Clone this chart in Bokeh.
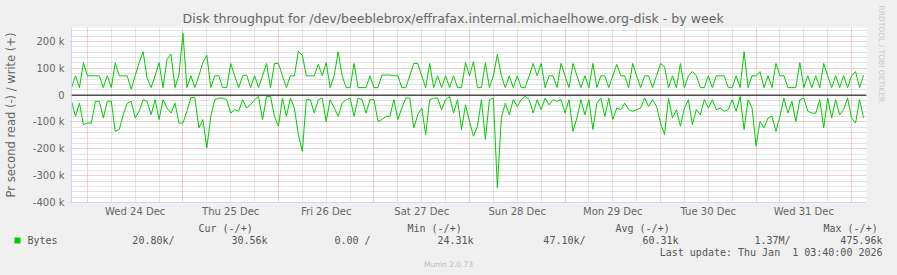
from bokeh.plotting import figure
from bokeh.layouts import column
from bokeh.models import Range1d, FixedTicker, Span, Title
from bokeh.core.properties import value
from bokeh.embed import file_html
from bokeh.resources import INLINE

# hourly samples starting Tue 23 Dec 20:00 (hour index)
hours = list(range(200))

# write (+) bytes per second, in thousands
write_k = [
    28, 72, 28, 121, 72, 72, 72, 72, 28, 72,
    28, 121, 72, 72, 72, 22, 72, 121, 162, 63,
    28, 72, 121, 28, 133, 153, 28, 75, 230, 28,
    72, 28, 72, 121, 149, 28, 72, 72, 28, 28,
    118, 72, 28, 72, 75, 28, 72, 28, 72, 118,
    28, 118, 118, 72, 28, 72, 72, 162, 149, 72,
    72, 72, 115, 72, 121, 28, 72, 162, 72, 28,
    28, 118, 28, 28, 28, 72, 28, 28, 75, 75,
    75, 72, 72, 28, 28, 72, 118, 118, 72, 28,
    118, 28, 72, 28, 72, 28, 72, 28, 28, 121,
    72, 125, 28, 28, 121, 28, 72, 152, 72, 28,
    72, 28, 72, 28, 28, 72, 118, 72, 118, 28,
    72, 72, 28, 118, 72, 28, 118, 72, 28, 72,
    28, 118, 28, 72, 72, 28, 72, 115, 72, 72,
    28, 118, 72, 28, 72, 72, 28, 72, 118, 106,
    28, 72, 28, 118, 28, 72, 88, 72, 28, 28,
    72, 28, 72, 72, 72, 28, 28, 72, 28, 162,
    28, 72, 72, 88, 28, 72, 28, 118, 72, 72,
    28, 28, 28, 121, 28, 72, 28, 72, 28, 118,
    72, 28, 72, 28, 72, 28, 72, 88, 28, 75,
]

# read (-) bytes per second, in thousands (drawn negative)
read_k = [
    -23, -79, -30, -110, -104, -104, -23, -23, -85, -23,
    -23, -135, -128, -73, -30, -23, -85, -60, -17, -23,
    -73, -17, -91, -17, -48, -67, -30, -104, -104, -60,
    -9, -9, -122, -91, -196, -79, -17, -11, -11, -17,
    -67, -54, -60, -17, -48, -36, -17, -5, -91, -5,
    -5, -79, -116, -11, -79, -11, -48, -147, -209, -17,
    -17, -67, -17, -11, -98, -17, -48, -79, -30, -17,
    -11, -79, -11, -17, -67, -17, -17, -98, -91, -79,
    -79, -17, -91, -48, -11, -11, -122, -73, -48, -147,
    -17, -11, -11, -54, -17, -5, -67, -17, -128, -36,
    -98, -153, -116, -17, -165, -17, -11, -344, -85, -30,
    -73, -17, -42, -17, -5, -17, -67, -17, -54, -11,
    -36, -17, -23, -17, -67, -17, -135, -85, -17, -73,
    -17, -128, -30, -11, -79, -11, -91, -48, -54, -30,
    -54, -60, -54, -48, -11, -42, -17, -42, -104, -147,
    -11, -85, -54, -116, -48, -17, -110, -54, -73, -17,
    -48, -17, -54, -48, -60, -54, -17, -60, -5, -128,
    -17, -48, -190, -98, -122, -85, -79, -135, -79, -11,
    -67, -23, -98, -17, -11, -60, -67, -67, -17, -122,
    -11, -85, -17, -73, -54, -11, -85, -104, -17, -85,
]

day_label_hours = [16, 40, 64, 88, 112, 136, 160, 184]
day_labels = ["Wed 24 Dec", "Thu 25 Dec", "Fri 26 Dec", "Sat 27 Dec",
              "Sun 28 Dec", "Mon 29 Dec", "Tue 30 Dec", "Wed 31 Dec"]
midnight_hours = [4, 28, 52, 76, 100, 124, 148, 172, 196]
six_hour_marks = [h for h in range(4, 200, 6) if h not in midnight_hours]

y_ticks = [-400000, -300000, -200000, -100000, 0, 100000, 200000]
y_tick_labels = ["-400 k", "-300 k", "-200 k", "-100 k", "0", "100 k", "200 k"]
y_minor = [v for v in range(-400000, 252000, 20000) if v % 100000 != 0]

legend_headers = ["Cur (-/+)", "Min (-/+)", "Avg (-/+)", "Max (-/+)"]
legend_series = ["Bytes"]
legend_values = ["20.80k/", "30.56k", "0.00 /", "24.31k",
                 "47.10k/", "60.31k", "1.37M/", "475.96k"]
last_update = "Last update: Thu Jan\u00a0 1 03:40:00 2026"
version = "Munin 2.0.73"
watermark = "RRDTOOL / TOBI OETIKER"
title_text = "Disk throughput for /dev/beeblebrox/effrafax.internal.michaelhowe.org-disk - by week"

write = [v * 1000 for v in write_k]
read = [v * 1000 for v in read_k]

W = 897
MAIN_H = 219
LEG_H = 275 - MAIN_H
FL, FR, FT, FB = 67, 866, 27, 203  # frame edges in page pixels

FONT = "DejaVu Sans"
MONO = "DejaVu Sans Mono"
TXT = "#666666"
BG = "#F0F0F0"
GREEN = "#00CC00"

p = figure(width=W, height=MAIN_H, output_backend="svg", toolbar_location=None,
           x_range=Range1d(0, 199.75), y_range=Range1d(-400000, 252000),
           min_border_left=FL, min_border_right=W - FR,
           min_border_top=FT, min_border_bottom=MAIN_H - FB)
p.frame_align = False
p.background_fill_color = "#FFFFFF"
p.border_fill_color = BG
p.outline_line_color = None

p.title.text = title_text
p.title.align = "left"
p.title.offset = 111
p.title.standoff = 3
p.title.text_font = FONT
p.title.text_font_size = "12.6px"
p.title.text_font_style = "normal"
p.title.text_color = TXT

wm = Title(text=watermark, align="left", text_font=FONT, text_font_size="7.5px",
           text_font_style="normal", text_color="#c8c8c8", standoff=20, offset=-22)
p.add_layout(wm, "right")

# grids
p.xgrid.ticker = FixedTicker(ticks=midnight_hours, minor_ticks=six_hour_marks)
p.xgrid.grid_line_color = "#e4a0a0"
p.xgrid.grid_line_dash = "1 1"
p.xgrid.minor_grid_line_color = "#c8c8c8"
p.xgrid.minor_grid_line_dash = "1 1"
p.ygrid.ticker = FixedTicker(ticks=y_ticks, minor_ticks=y_minor)
p.ygrid.grid_line_color = "#e4a0a0"
p.ygrid.grid_line_dash = "1 1"
p.ygrid.minor_grid_line_color = "#c8c8c8"
p.ygrid.minor_grid_line_dash = "1 1"

# axes
p.xaxis.ticker = FixedTicker(ticks=day_label_hours)
p.xaxis.major_label_overrides = dict(zip(day_label_hours, day_labels))
p.xaxis.major_tick_line_color = None
p.xaxis.major_tick_out = 0
p.xaxis.major_tick_in = 0
p.xaxis.minor_tick_line_color = None
p.xaxis.minor_tick_out = 0
p.xaxis.axis_line_color = "#CFD6F8"
p.xaxis.major_label_text_font = FONT
p.xaxis.major_label_text_font_size = "10px"
p.xaxis.major_label_text_color = TXT
p.xaxis.major_label_standoff = 3

p.yaxis.ticker = FixedTicker(ticks=y_ticks)
p.yaxis.major_label_overrides = dict(zip(y_ticks, y_tick_labels))
p.yaxis.axis_line_color = "#CFD6F8"
p.yaxis.major_tick_line_color = "#CFD6F8"
p.yaxis.major_tick_in = 0
p.yaxis.major_tick_out = 2
p.yaxis.minor_tick_line_color = None
p.yaxis.major_label_text_font = FONT
p.yaxis.major_label_text_font_size = "10px"
p.yaxis.major_label_text_color = TXT
p.yaxis.major_label_standoff = 5
p.yaxis.axis_label = "Pr second read (-) / write (+)"
p.yaxis.axis_label_text_font = FONT
p.yaxis.axis_label_text_font_size = "11.5px"
p.yaxis.axis_label_text_font_style = "normal"
p.yaxis.axis_label_text_color = TXT
p.yaxis.axis_label_standoff = 12

# data
p.line(hours, write, line_color=GREEN, line_width=1)
p.line(hours, read, line_color=GREEN, line_width=1)
p.add_layout(Span(location=0, dimension="width", line_color="#000000", line_width=1))

# legend / footer panel: coordinates are page pixels (y downward)
lg = figure(width=W, height=LEG_H, output_backend="svg", toolbar_location=None,
            x_range=Range1d(0, W), y_range=Range1d(275, MAIN_H),
            min_border=0, min_border_left=0, min_border_right=0,
            min_border_top=0, min_border_bottom=0)
lg.frame_align = False
lg.axis.visible = False
lg.grid.visible = False
lg.background_fill_color = BG
lg.border_fill_color = BG
lg.outline_line_color = None

mono = dict(text_font=value(MONO), text_font_size="10px", text_color="#555555",
            text_baseline="middle")

lg.text(x=[198, 407, 615, 823], y=[228] * 4, text=legend_headers, text_align="left", **mono)
lg.text(x=[27], y=[240], text=legend_series, text_align="left", **mono)
lg.text(x=[174, 267, 370, 473, 585, 678, 790, 882], y=[240] * 8, text=legend_values,
        text_align="right", **mono)
lg.text(x=[882], y=[252], text=[last_update], text_align="right", **mono)
lg.text(x=[448], y=[264], text=[version], text_align="center", text_baseline="middle",
        text_font=value(FONT), text_font_size="7.5px", text_color="#bbbbbb")
lg.rect(x=[17], y=[240], width=6, height=6, fill_color=GREEN, line_color=None)

layout = column(p, lg, spacing=0)
layout.styles = {"background-color": BG}

open("out.html", "w").write(file_html(layout, INLINE))
